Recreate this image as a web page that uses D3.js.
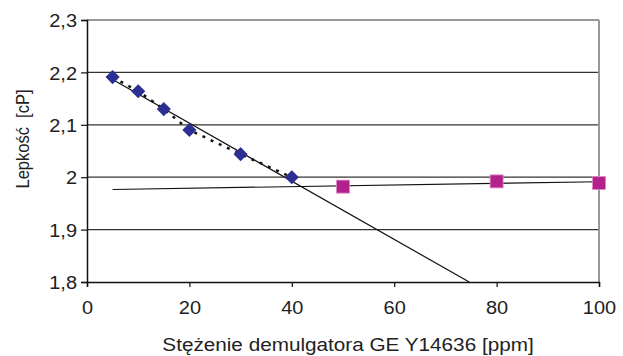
<!DOCTYPE html>
<html>
<head>
<meta charset="utf-8">
<script src="https://cdn.jsdelivr.net/npm/d3@7"></script>
<style>
  body { margin: 0; background: #fff; }
  text { font-family: "Liberation Sans", Arial, sans-serif; fill: #222; }
  /* the source picture is stretched sideways, so the text is too */
  .wide { transform-box: fill-box; transform-origin: center; transform: scaleX(1.08); }
  .wide-right { transform-box: fill-box; transform-origin: right center; transform: scaleX(1.08); }
  .title { transform-box: fill-box; transform-origin: center; transform: scaleX(1.12); }
</style>
</head>
<body>
<div id="chart"></div>
<script>
// Data
const lowConc = [5, 10, 15, 20, 30, 40];
const lowVisc = [2.191, 2.164, 2.130, 2.090, 2.044, 2.000];
const highConc = [50, 80, 100];
const highVisc = [1.982, 1.992, 1.989];
const xTicks = [0, 20, 40, 60, 80, 100];
const yTicks = [1.8, 1.9, 2.0, 2.1, 2.2, 2.3];

const width = 623, height = 356;
const margin = { top: 20, right: 24, bottom: 74, left: 87 };
const fontSize = 18.5;

const svg = d3.select("#chart").append("svg")
    .attr("width", width)
    .attr("height", height);

const x = d3.scaleLinear().domain([0, 100]).range([margin.left, width - margin.right]);
const y = d3.scaleLinear().domain([1.8, 2.3]).range([height - margin.bottom, margin.top]);

const fmt = d => d === 2 ? "2" : d3.format(".1f")(d).replace(".", ",");

// Gridlines
svg.append("g")
    .selectAll("line")
    .data(yTicks.filter(d => d > 1.8))
    .enter().append("line")
    .attr("x1", x(0)).attr("x2", x(100))
    .attr("y1", d => y(d)).attr("y2", d => y(d))
    .attr("stroke", "#333")
    .attr("stroke-width", 1.2);

// Right border
svg.append("line")
    .attr("x1", x(100)).attr("x2", x(100))
    .attr("y1", y(2.3)).attr("y2", y(1.8))
    .attr("stroke", "#999")
    .attr("stroke-width", 2);

// Axes
const xAxis = svg.append("g")
    .attr("transform", `translate(0,${y(1.8)})`)
    .call(d3.axisBottom(x).tickValues(xTicks).tickSize(5).tickPadding(14).tickFormat(d => d));
const yAxis = svg.append("g")
    .attr("transform", `translate(${x(0)},0)`)
    .call(d3.axisLeft(y).tickValues(yTicks).tickSize(6).tickPadding(4).tickFormat(fmt));

[xAxis, yAxis].forEach(a => {
    a.select(".domain").attr("stroke", "#111").attr("stroke-width", 1.5);
    a.selectAll(".tick line").attr("stroke", "#111").attr("stroke-width", 1.2);
    a.selectAll("text").attr("font-size", fontSize).attr("fill", "#222")
        .style("font-family", "'Liberation Sans', Arial, sans-serif");
});
xAxis.selectAll("text").attr("class", "wide");
yAxis.selectAll("text").attr("class", "wide-right").attr("dy", "0.36em");

// Linear trend lines (least squares, as in the source spreadsheet)
function fit(xs, ys) {
    const mx = d3.mean(xs), my = d3.mean(ys);
    const sxy = d3.sum(xs, (v, i) => (v - mx) * (ys[i] - my));
    const sxx = d3.sum(xs, v => (v - mx) * (v - mx));
    const b = sxy / sxx;
    return { a: my - b * mx, b: b };
}

const t1 = fit(lowConc, lowVisc);
const x1End = (1.8 - t1.a) / t1.b;
svg.append("line")
    .attr("x1", x(5)).attr("y1", y(t1.a + t1.b * 5))
    .attr("x2", x(x1End)).attr("y2", y(1.8))
    .attr("stroke", "#111").attr("stroke-width", 1.2);

const t2 = fit(highConc, highVisc);
svg.append("line")
    .attr("x1", x(5)).attr("y1", y(t2.a + t2.b * 5))
    .attr("x2", x(100)).attr("y2", y(t2.a + t2.b * 100))
    .attr("stroke", "#111").attr("stroke-width", 1.2);

// Dotted connecting line for the low-concentration series
const lowPts = lowConc.map((c, i) => [c, lowVisc[i]]);
svg.append("path")
    .datum(lowPts)
    .attr("fill", "none")
    .attr("stroke", "#111")
    .attr("stroke-width", 2.5)
    .attr("stroke-dasharray", "3,6")
    .attr("d", d3.line().x(d => x(d[0])).y(d => y(d[1])));

// Markers
svg.append("g")
    .selectAll("path")
    .data(lowPts)
    .enter().append("path")
    .attr("d", d3.symbol().type(d3.symbolSquare).size(100))
    .attr("transform", d => `translate(${x(d[0])},${y(d[1])}) rotate(45)`)
    .attr("fill", "#2b2f91");

const highPts = highConc.map((c, i) => [c, highVisc[i]]);
svg.append("g")
    .selectAll("rect")
    .data(highPts)
    .enter().append("rect")
    .attr("x", d => x(d[0]) - 6.5)
    .attr("y", d => y(d[1]) - 6.5)
    .attr("width", 13).attr("height", 13)
    .attr("fill", "#b3228c")
    .attr("stroke", "#e08ac8")
    .attr("stroke-width", 0.8);

// Axis titles
svg.append("text")
    .attr("class", "title")
    .attr("x", 348).attr("y", 351)
    .attr("text-anchor", "middle")
    .attr("font-size", fontSize)
    .text("Stężenie demulgatora GE Y14636 [ppm]");

svg.append("g")
    .attr("transform", "translate(22,139) scale(1.14,1) rotate(-90)")
    .append("text")
    .attr("text-anchor", "middle")
    .attr("dy", "0.35em")
    .attr("font-size", 16.5)
    .text("Lepkość\u00a0 [cP]");
</script>
</body>
</html>
